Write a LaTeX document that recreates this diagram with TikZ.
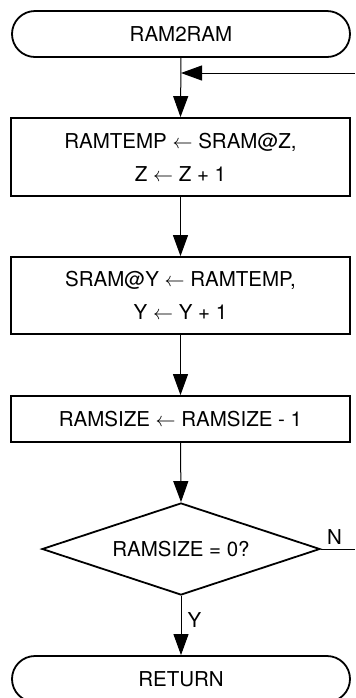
\documentclass[tikz,border=0pt]{standalone}
\usepackage{fontspec}
\setmainfont{TeX Gyre Heros}
\usetikzlibrary{shapes.geometric,arrows.meta}
\begin{document}
\begin{tikzpicture}[x=0.5pt,y=-0.5pt,
  every node/.style={font=\fontsize{10.25pt}{16.5pt}\selectfont},
  term/.style={draw,line width=0.9pt,rounded corners=11.5pt,minimum width=169pt,minimum height=23pt,inner sep=0pt},
  procbox/.style={draw,line width=0.9pt,minimum width=169.5pt,inner sep=0pt,align=center},
  decis/.style={draw,line width=0.9pt,diamond,aspect=3,inner sep=0pt,minimum width=139pt,minimum height=46pt},
  arr/.style={line width=0.5pt,-{Triangle[length=10.5pt,width=7.5pt]}},
  conn/.style={line width=0.5pt}]
\useasboundingbox (0,0) rectangle (355,698);
\node[term] (start) at (181,34) {RAM2RAM};
\node[procbox,minimum height=39pt] (b1) at (180.5,157) {RAMTEMP $\leftarrow$ SRAM@Z,\\ Z $\leftarrow$ Z + 1};
\node[procbox,minimum height=38.5pt] (b2) at (180.5,295.5) {SRAM@Y $\leftarrow$ RAMTEMP,\\ Y $\leftarrow$ Y + 1};
\node[procbox,minimum height=23pt] (b3) at (180.5,419) {RAMSIZE $\leftarrow$ RAMSIZE - 1};
\node[decis] (d) at (181,549) {RAMSIZE = 0?};
\node[term] (ret) at (181,679) {RETURN};
\coordinate (loopin) at (355,73);
\coordinate (join) at (181,73);
\coordinate (nend) at (355,549);
\draw[arr] (loopin) -- (join);
\draw[arr] (start.south) -- (b1.north);
\draw[arr] (b1.south) -- (b2.north);
\draw[arr] (b2.south) -- (b3.north);
\draw[arr] (b3.south) -- (d.north);
\draw[conn] (d.east) -- (nend) node[pos=0.4,above,inner sep=2pt] {N};
\draw[arr] (d.south) -- node[pos=0.4,right,inner sep=3pt] {Y} (ret.north);
\end{tikzpicture}
\end{document}
